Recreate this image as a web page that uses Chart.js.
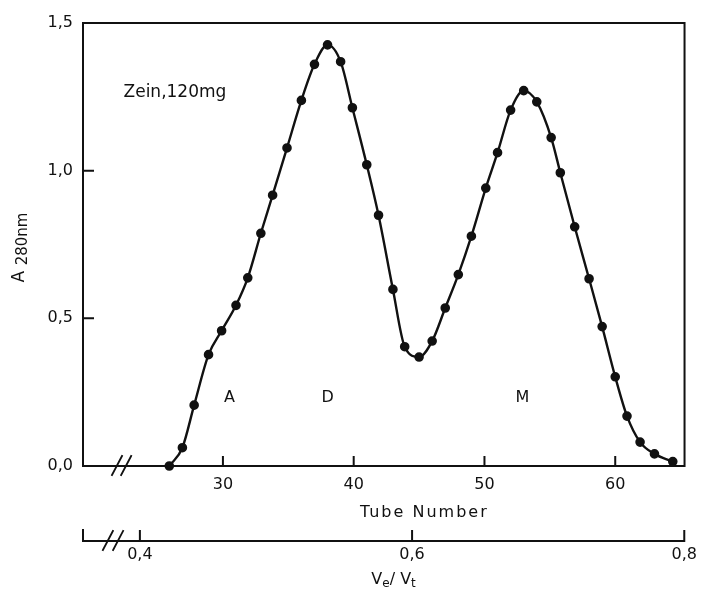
<!DOCTYPE html>
<html>
<head>
<meta charset="utf-8">
<script src="https://cdn.jsdelivr.net/npm/chart.js@4"></script>
<style>
  html, body { margin: 0; padding: 0; background: #fff; }
</style>
</head>
<body>
<canvas id="graph" width="701" height="593"></canvas>
<script>
// fractions (tube number, A280)
const tubes = [25.9, 26.9, 27.8, 28.9, 29.9, 31.0, 31.9, 32.9, 33.8, 34.9,
               36.0, 37.0, 38.0, 39.0, 39.9, 41.0, 41.9, 43.0, 43.9, 45.0,
               46.0, 47.0, 48.0, 49.0, 50.1, 51.0, 52.0, 53.0, 54.0, 55.1,
               55.8, 56.9, 58.0, 59.0, 60.0, 60.9, 61.9, 63.0, 64.4];
const absorbance = [0.000, 0.062, 0.206, 0.377, 0.458, 0.544, 0.637, 0.788, 0.917, 1.077,
                    1.238, 1.360, 1.426, 1.369, 1.213, 1.020, 0.849, 0.598, 0.404, 0.369,
                    0.423, 0.535, 0.648, 0.778, 0.941, 1.061, 1.205, 1.271, 1.233, 1.112,
                    0.993, 0.810, 0.634, 0.472, 0.302, 0.169, 0.081, 0.041, 0.015];

// axes
const tubeTicks = [30, 40, 50, 60];
const ratioTicks = [0.4, 0.6, 0.8];
const yTicks = [0, 0.5, 1.0, 1.5];

// peak labels
const peakNames = ['A', 'D', 'M'];
const peakTubes = [30.5, 38.0, 52.9];
const peakLabelLevel = 0.23;
const sampleNote = 'Zein,120mg';

function comma(v) {
    return v.toFixed(1).replace('.', ',');
}

// draw a run of text pieces, some of them lowered as subscripts
function drawParts(ctx, parts, cx, cy) {
    let total = 0;
    parts.forEach(p => {
        ctx.font = p.size + 'px "DejaVu Sans"';
        total += ctx.measureText(p.text).width;
    });
    let px = cx - total / 2;
    parts.forEach(p => {
        ctx.font = p.size + 'px "DejaVu Sans"';
        ctx.fillText(p.text, px, cy + p.drop);
        px += ctx.measureText(p.text).width;
    });
}

const frame = {
    id: 'frame',
    afterDraw(chart) {
        const {ctx, chartArea: a, scales: {x, x2, y}} = chart;
        ctx.save();
        ctx.strokeStyle = '#111';
        ctx.lineWidth = 2;
        ctx.lineCap = 'square';

        // top and right side of the box
        ctx.beginPath();
        ctx.moveTo(a.left, a.top);
        ctx.lineTo(a.right, a.top);
        ctx.lineTo(a.right, a.bottom);
        ctx.stroke();

        // ticks pointing into the plot
        ctx.beginPath();
        yTicks.forEach(v => {
            const py = y.getPixelForValue(v);
            ctx.moveTo(a.left, py);
            ctx.lineTo(a.left + 10, py);
        });
        tubeTicks.forEach(v => {
            const px = x.getPixelForValue(v);
            ctx.moveTo(px, a.bottom);
            ctx.lineTo(px, a.bottom - 9);
        });
        ratioTicks.forEach(v => {
            const px = x2.getPixelForValue(v);
            ctx.moveTo(px, x2.top);
            ctx.lineTo(px, x2.top - 10);
        });
        ctx.moveTo(x2.left, x2.top);
        ctx.lineTo(x2.left, x2.top - 11);
        ctx.stroke();

        // axis breaks
        ctx.lineWidth = 1.8;
        ctx.beginPath();
        [21.9, 22.6].forEach(v => {
            const px = x.getPixelForValue(v);
            ctx.moveTo(px - 5, a.bottom + 9);
            ctx.lineTo(px + 5, a.bottom - 10);
        });
        [0.3765, 0.384].forEach(v => {
            const px = x2.getPixelForValue(v);
            ctx.moveTo(px - 5, x2.top + 9);
            ctx.lineTo(px + 5, x2.top - 10);
        });
        ctx.stroke();

        // annotations
        ctx.fillStyle = '#111';
        ctx.textBaseline = 'middle';
        ctx.textAlign = 'left';
        ctx.font = '17px "DejaVu Sans"';
        ctx.fillText(sampleNote, x.getPixelForValue(22.4), y.getPixelForValue(1.264));

        ctx.textAlign = 'center';
        ctx.font = '16px "DejaVu Sans"';
        peakNames.forEach((n, i) => {
            ctx.fillText(n, x.getPixelForValue(peakTubes[i]), y.getPixelForValue(peakLabelLevel));
        });

        // axis titles
        ctx.textAlign = 'left';
        ctx.letterSpacing = '2px';
        ctx.font = '16px "DejaVu Sans"';
        const tn = 'Tube Number';
        const tw = ctx.measureText(tn).width;
        ctx.fillText(tn, x.getPixelForValue(45.4) - tw / 2, x.bottom - 28);
        ctx.letterSpacing = '0px';

        drawParts(ctx, [
            {text: 'V', size: 16, drop: 0},
            {text: 'e', size: 12, drop: 4},
            {text: '/ V', size: 16, drop: 0},
            {text: 't', size: 12, drop: 4}
        ], x2.getPixelForValue(0.5864), x2.bottom - 13);

        ctx.translate(y.left + 20, (a.top + a.bottom) / 2 + 3);
        ctx.rotate(-Math.PI / 2);
        drawParts(ctx, [
            {text: 'A ', size: 17, drop: 0},
            {text: '280nm', size: 15, drop: 3}
        ], 0, 0);
        ctx.restore();
    }
};

const points = tubes.map((t, i) => ({x: t, y: absorbance[i]}));

const config = {
    type: 'line',
    data: {
        datasets: [{
            label: sampleNote,
            data: points,
            borderColor: '#111',
            backgroundColor: '#111',
            borderWidth: 2.4,
            pointRadius: 3.6,
            pointHoverRadius: 3.6,
            cubicInterpolationMode: 'monotone',
            clip: false
        }]
    },
    options: {
        responsive: false,
        animation: false,
        devicePixelRatio: 1,
        layout: {padding: {top: 23, right: 15, left: 0, bottom: 0}},
        plugins: {
            legend: {display: false},
            tooltip: {enabled: false}
        },
        scales: {
            x: {
                type: 'linear',
                position: 'bottom',
                min: 19.3,
                max: 65.3,
                afterBuildTicks: s => { s.ticks = tubeTicks.map(v => ({value: v})); },
                afterFit: s => { s.height = 75; },
                grid: {display: false, drawTicks: false},
                border: {display: true, color: '#111', width: 2},
                ticks: {
                    color: '#111',
                    font: {family: 'DejaVu Sans', size: 16},
                    padding: 9,
                    maxRotation: 0
                }
            },
            x2: {
                type: 'linear',
                position: 'bottom',
                min: 0.3582,
                max: 0.8002,
                afterBuildTicks: s => { s.ticks = ratioTicks.map(v => ({value: v})); },
                afterFit: s => { s.height = 52; },
                grid: {display: false, drawTicks: false},
                border: {display: true, color: '#111', width: 2},
                ticks: {
                    color: '#111',
                    font: {family: 'DejaVu Sans', size: 16},
                    padding: 4,
                    maxRotation: 0,
                    callback: v => comma(v)
                }
            },
            y: {
                min: 0,
                max: 1.5,
                afterBuildTicks: s => { s.ticks = yTicks.map(v => ({value: v})); },
                afterFit: s => { s.width = 83; },
                grid: {display: false, drawTicks: false},
                border: {display: true, color: '#111', width: 2},
                ticks: {
                    color: '#111',
                    font: {family: 'DejaVu Sans', size: 16},
                    padding: 10,
                    callback: v => comma(v)
                }
            }
        }
    },
    plugins: [frame]
};

var ctx = document.getElementById('graph').getContext('2d');
var graph = new Chart(ctx, config);
</script>
</body>
</html>
